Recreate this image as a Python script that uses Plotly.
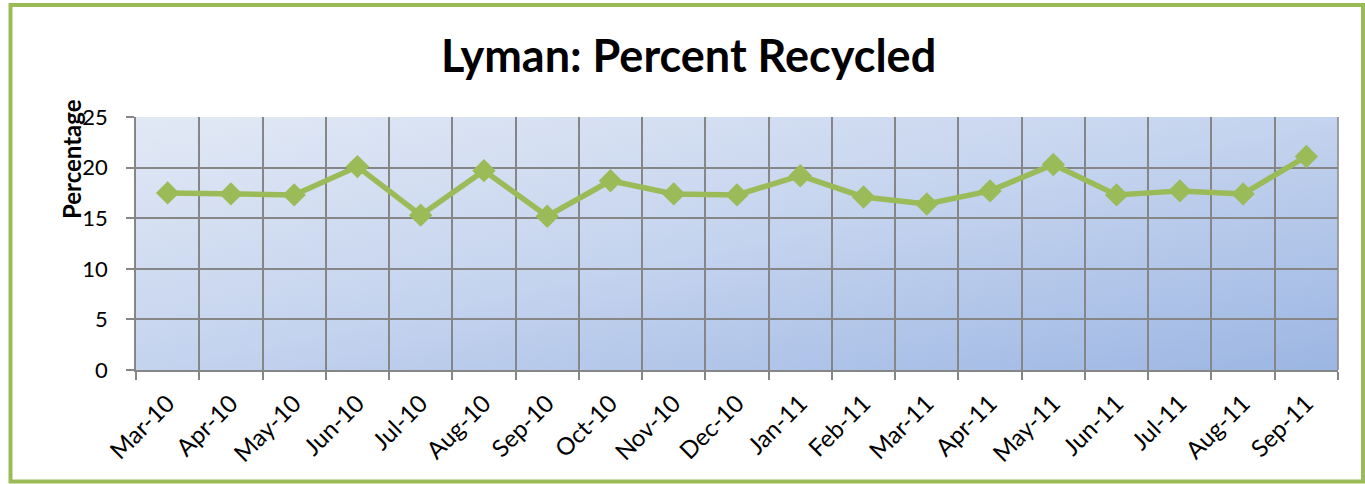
import base64
import plotly.graph_objects as go

months = ["Mar-10", "Apr-10", "May-10", "Jun-10", "Jul-10", "Aug-10", "Sep-10", "Oct-10",
          "Nov-10", "Dec-10", "Jan-11", "Feb-11", "Mar-11", "Apr-11", "May-11", "Jun-11",
          "Jul-11", "Aug-11", "Sep-11"]
percent_recycled = [17.5, 17.4, 17.3, 20.1, 15.3, 19.7, 15.2, 18.7, 17.4, 17.3, 19.2,
                    17.1, 16.4, 17.7, 20.3, 17.3, 17.7, 17.4, 21.1]
y_ticks = [0, 5, 10, 15, 20, 25]

GREEN = "#9BBB59"
GRID = "#868686"

svg = ('<svg xmlns="http://www.w3.org/2000/svg" width="1202" height="253" preserveAspectRatio="none">'
       '<defs><linearGradient id="g" x1="0" y1="0" x2="1" y2="1">'
       '<stop offset="0" stop-color="#E2E9F5"/>'
       '<stop offset="0.5" stop-color="#C4D3EE"/>'
       '<stop offset="1" stop-color="#9CB6E3"/>'
       '</linearGradient></defs>'
       '<rect width="1202" height="253" fill="url(#g)"/></svg>')
svg_uri = "data:image/svg+xml;base64," + base64.b64encode(svg.encode()).decode()

fig = go.Figure()
fig.add_trace(go.Scatter(
    x=months, y=percent_recycled, mode="lines+markers",
    line=dict(color=GREEN, width=5.5),
    marker=dict(symbol="diamond", size=18, color=GREEN),
    showlegend=False, cliponaxis=False,
))

fig.update_layout(
    width=1365, height=484,
    margin=dict(l=136, r=27, t=117, b=114),
    paper_bgcolor="white", plot_bgcolor="rgba(0,0,0,0)",
    title=dict(text="<b>Lyman: Percent Recycled</b>", x=0.5045, xanchor="center",
               y=0.883, yanchor="middle",
               font=dict(family="Lato", size=45, color="black")),
    font=dict(family="Lato", size=21, color="black"),
    images=[dict(source=svg_uri, xref="paper", yref="paper", x=0, y=1, sizex=1, sizey=1,
                 sizing="stretch", layer="below", xanchor="left", yanchor="top")],
    xaxis=dict(type="category", tickson="boundaries", showgrid=True, gridcolor=GRID, gridwidth=1.5,
               ticks="outside", ticklen=8, tickcolor=GRID, tickwidth=1.5, tickangle=-45,
               ticklabelstandoff=8,
               showline=True, linecolor=GRID, linewidth=1.5, mirror=False,
               range=[-0.5, len(months) - 0.5], tickfont=dict(family="Lato", size=24)),
    yaxis=dict(range=[0, 25], tickvals=y_ticks, showgrid=True, gridcolor=GRID, gridwidth=1.5,
               ticks="outside", ticklen=8, tickcolor=GRID, tickwidth=1.5,
               ticklabelstandoff=14,
               showline=True, linecolor=GRID, linewidth=1.5, zeroline=False,
               tickfont=dict(family="Lato", size=22)),
    annotations=[dict(text="<b>Percentage</b>", xref="paper", yref="paper", x=-0.0532, y=0.834,
                      xanchor="center", yanchor="middle", textangle=-90, showarrow=False,
                      font=dict(family="Lato", size=24, color="black"))],
    shapes=[dict(type="rect", xref="paper", yref="paper", x0=-0.1044, x1=1.0208, y0=-0.4407, y1=1.4427,
                 line=dict(color=GREEN, width=4), fillcolor="rgba(0,0,0,0)", layer="below"),
            dict(type="line", xref="paper", yref="paper", x0=1, x1=1, y0=0, y1=1,
                 line=dict(color=GRID, width=1.5))],
)

fig.write_html("out.html", config={"displayModeBar": False},
               post_script="document.body.style.margin='0';")
